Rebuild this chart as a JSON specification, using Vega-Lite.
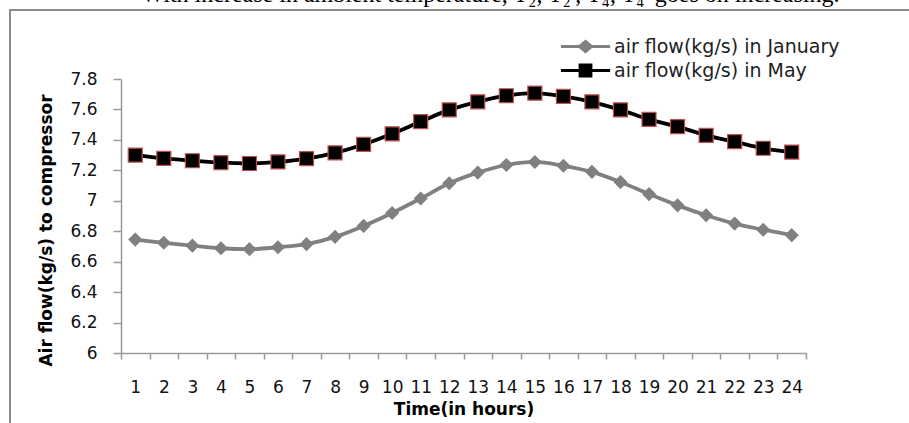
{
  "$schema": "https://vega.github.io/schema/vega-lite/v6.json",
  "width": 899,
  "height": 413,
  "autosize": {"type": "none"},
  "padding": {"left": 10, "top": 10, "right": 0, "bottom": 0},
  "background": "white",
  "config": {
    "view": {"stroke": "#8a8a8a", "strokeWidth": 2, "strokeDash": [899, 1312, 413, 20]},
    "font": "DejaVu Sans"
  },
  "title": {
    "text": "With increase in ambient temperature, T₂, T₂', T₄, T₄' goes on increasing.",
    "font": "Liberation Serif",
    "fontSize": 24,
    "fontWeight": "normal",
    "color": "black",
    "anchor": "middle",
    "frame": "group",
    "baseline": "alphabetic",
    "offset": -16,
    "dx": 31
  },
  "data": {
    "values": [
      {"hour": 1, "series": "air flow(kg/s) in January", "flow": 6.745},
      {"hour": 2, "series": "air flow(kg/s) in January", "flow": 6.724},
      {"hour": 3, "series": "air flow(kg/s) in January", "flow": 6.705},
      {"hour": 4, "series": "air flow(kg/s) in January", "flow": 6.688},
      {"hour": 5, "series": "air flow(kg/s) in January", "flow": 6.682},
      {"hour": 6, "series": "air flow(kg/s) in January", "flow": 6.695},
      {"hour": 7, "series": "air flow(kg/s) in January", "flow": 6.715},
      {"hour": 8, "series": "air flow(kg/s) in January", "flow": 6.763},
      {"hour": 9, "series": "air flow(kg/s) in January", "flow": 6.835},
      {"hour": 10, "series": "air flow(kg/s) in January", "flow": 6.92},
      {"hour": 11, "series": "air flow(kg/s) in January", "flow": 7.015},
      {"hour": 12, "series": "air flow(kg/s) in January", "flow": 7.115},
      {"hour": 13, "series": "air flow(kg/s) in January", "flow": 7.185},
      {"hour": 14, "series": "air flow(kg/s) in January", "flow": 7.235},
      {"hour": 15, "series": "air flow(kg/s) in January", "flow": 7.255},
      {"hour": 16, "series": "air flow(kg/s) in January", "flow": 7.23},
      {"hour": 17, "series": "air flow(kg/s) in January", "flow": 7.19},
      {"hour": 18, "series": "air flow(kg/s) in January", "flow": 7.123},
      {"hour": 19, "series": "air flow(kg/s) in January", "flow": 7.044},
      {"hour": 20, "series": "air flow(kg/s) in January", "flow": 6.97},
      {"hour": 21, "series": "air flow(kg/s) in January", "flow": 6.905},
      {"hour": 22, "series": "air flow(kg/s) in January", "flow": 6.85},
      {"hour": 23, "series": "air flow(kg/s) in January", "flow": 6.81},
      {"hour": 24, "series": "air flow(kg/s) in January", "flow": 6.774},
      {"hour": 1, "series": "air flow(kg/s) in May", "flow": 7.3},
      {"hour": 2, "series": "air flow(kg/s) in May", "flow": 7.278},
      {"hour": 3, "series": "air flow(kg/s) in May", "flow": 7.263},
      {"hour": 4, "series": "air flow(kg/s) in May", "flow": 7.25},
      {"hour": 5, "series": "air flow(kg/s) in May", "flow": 7.245},
      {"hour": 6, "series": "air flow(kg/s) in May", "flow": 7.255},
      {"hour": 7, "series": "air flow(kg/s) in May", "flow": 7.277},
      {"hour": 8, "series": "air flow(kg/s) in May", "flow": 7.315},
      {"hour": 9, "series": "air flow(kg/s) in May", "flow": 7.37},
      {"hour": 10, "series": "air flow(kg/s) in May", "flow": 7.44},
      {"hour": 11, "series": "air flow(kg/s) in May", "flow": 7.52},
      {"hour": 12, "series": "air flow(kg/s) in May", "flow": 7.597},
      {"hour": 13, "series": "air flow(kg/s) in May", "flow": 7.65},
      {"hour": 14, "series": "air flow(kg/s) in May", "flow": 7.69},
      {"hour": 15, "series": "air flow(kg/s) in May", "flow": 7.707},
      {"hour": 16, "series": "air flow(kg/s) in May", "flow": 7.686},
      {"hour": 17, "series": "air flow(kg/s) in May", "flow": 7.65},
      {"hour": 18, "series": "air flow(kg/s) in May", "flow": 7.597},
      {"hour": 19, "series": "air flow(kg/s) in May", "flow": 7.535},
      {"hour": 20, "series": "air flow(kg/s) in May", "flow": 7.487},
      {"hour": 21, "series": "air flow(kg/s) in May", "flow": 7.43},
      {"hour": 22, "series": "air flow(kg/s) in May", "flow": 7.388},
      {"hour": 23, "series": "air flow(kg/s) in May", "flow": 7.345},
      {"hour": 24, "series": "air flow(kg/s) in May", "flow": 7.32}
    ]
  },
  "encoding": {
    "x": {
      "field": "hour",
      "type": "ordinal",
      "scale": {"type": "band", "range": [111, 796], "paddingInner": 0, "paddingOuter": 0},
      "axis": {
        "title": "Time(in hours)",
        "titleFont": "DejaVu Sans",
        "titleFontSize": 17,
        "titleFontWeight": "bold",
        "titleColor": "#000000",
        "titlePadding": 6,
        "labelFont": "DejaVu Sans",
        "labelFontSize": 17,
        "labelColor": "#111111",
        "labelAngle": 0,
        "labelPadding": 20,
        "tickSize": 6,
        "tickWidth": 1.5,
        "tickColor": "#9a9a9a",
        "domainColor": "#9a9a9a",
        "domainWidth": 1.5,
        "tickBand": "extent",
        "offset": -70,
        "grid": false
      }
    },
    "y": {
      "field": "flow",
      "type": "quantitative",
      "scale": {"domain": [6, 7.8], "range": [343, 69], "zero": false, "nice": false},
      "axis": {
        "title": "Air flow(kg/s) to compressor",
        "titleFont": "DejaVu Sans",
        "titleFontSize": 17,
        "titleFontWeight": "bold",
        "titleColor": "#000000",
        "titlePadding": 14,
        "titleY": 220,
        "values": [6, 6.2, 6.4, 6.6, 6.8, 7, 7.2, 7.4, 7.6, 7.8],
        "format": "~g",
        "labelFont": "DejaVu Sans",
        "labelFontSize": 17,
        "labelColor": "#111111",
        "labelPadding": 16,
        "tickSize": 8,
        "tickWidth": 1.5,
        "tickColor": "#9a9a9a",
        "domainColor": "#9a9a9a",
        "domainWidth": 1.5,
        "offset": -111,
        "grid": false
      }
    }
  },
  "layer": [
    {
      "mark": {"type": "line", "strokeWidth": 3.8, "interpolate": "monotone"},
      "encoding": {
        "color": {
          "field": "series",
          "type": "nominal",
          "scale": {"domain": ["air flow(kg/s) in January", "air flow(kg/s) in May"], "range": ["#808080", "#000000"]},
          "legend": {
            "orient": "none",
            "legendX": 566,
            "legendY": 27,
            "title": null,
            "padding": 0,
            "symbolType": "square",
            "symbolSize": 144,
            "symbolStrokeWidth": 3,
            "labelFont": "DejaVu Sans",
            "labelFontSize": 19,
            "labelColor": "#222222",
            "labelOffset": 19,
            "labelLimit": 400,
            "rowPadding": 1,
            "encode": {
              "symbols": {
                "update": {
                  "shape": {"signal": "datum.value === 'air flow(kg/s) in May' ? 'M-4.1,0L4.1,0M-0.9,-0.9L0.9,-0.9L0.9,0.9L-0.9,0.9Z' : 'M-4.1,0L4.1,0M0,-0.85L1,0L0,0.85L-1,0Z'"},
                  "fill": {"signal": "datum.value === 'air flow(kg/s) in May' ? '#000000' : '#808080'"},
                  "stroke": {"signal": "datum.value === 'air flow(kg/s) in May' ? '#000000' : '#808080'"},
                  "strokeWidth": {"value": 3},
                  "opacity": {"value": 1}
                }
              }
            }
          }
        }
      }
    },
    {
      "transform": [{"filter": "datum.series === 'air flow(kg/s) in January'"}],
      "mark": {"type": "point", "shape": "diamond", "filled": true, "opacity": 1, "color": "#808080", "size": 200}
    },
    {
      "transform": [{"filter": "datum.series === 'air flow(kg/s) in May'"}],
      "mark": {"type": "point", "shape": "square", "filled": true, "opacity": 1, "fill": "#000000", "stroke": "#c0504d", "strokeWidth": 1.2, "size": 196}
    }
  ]
}
